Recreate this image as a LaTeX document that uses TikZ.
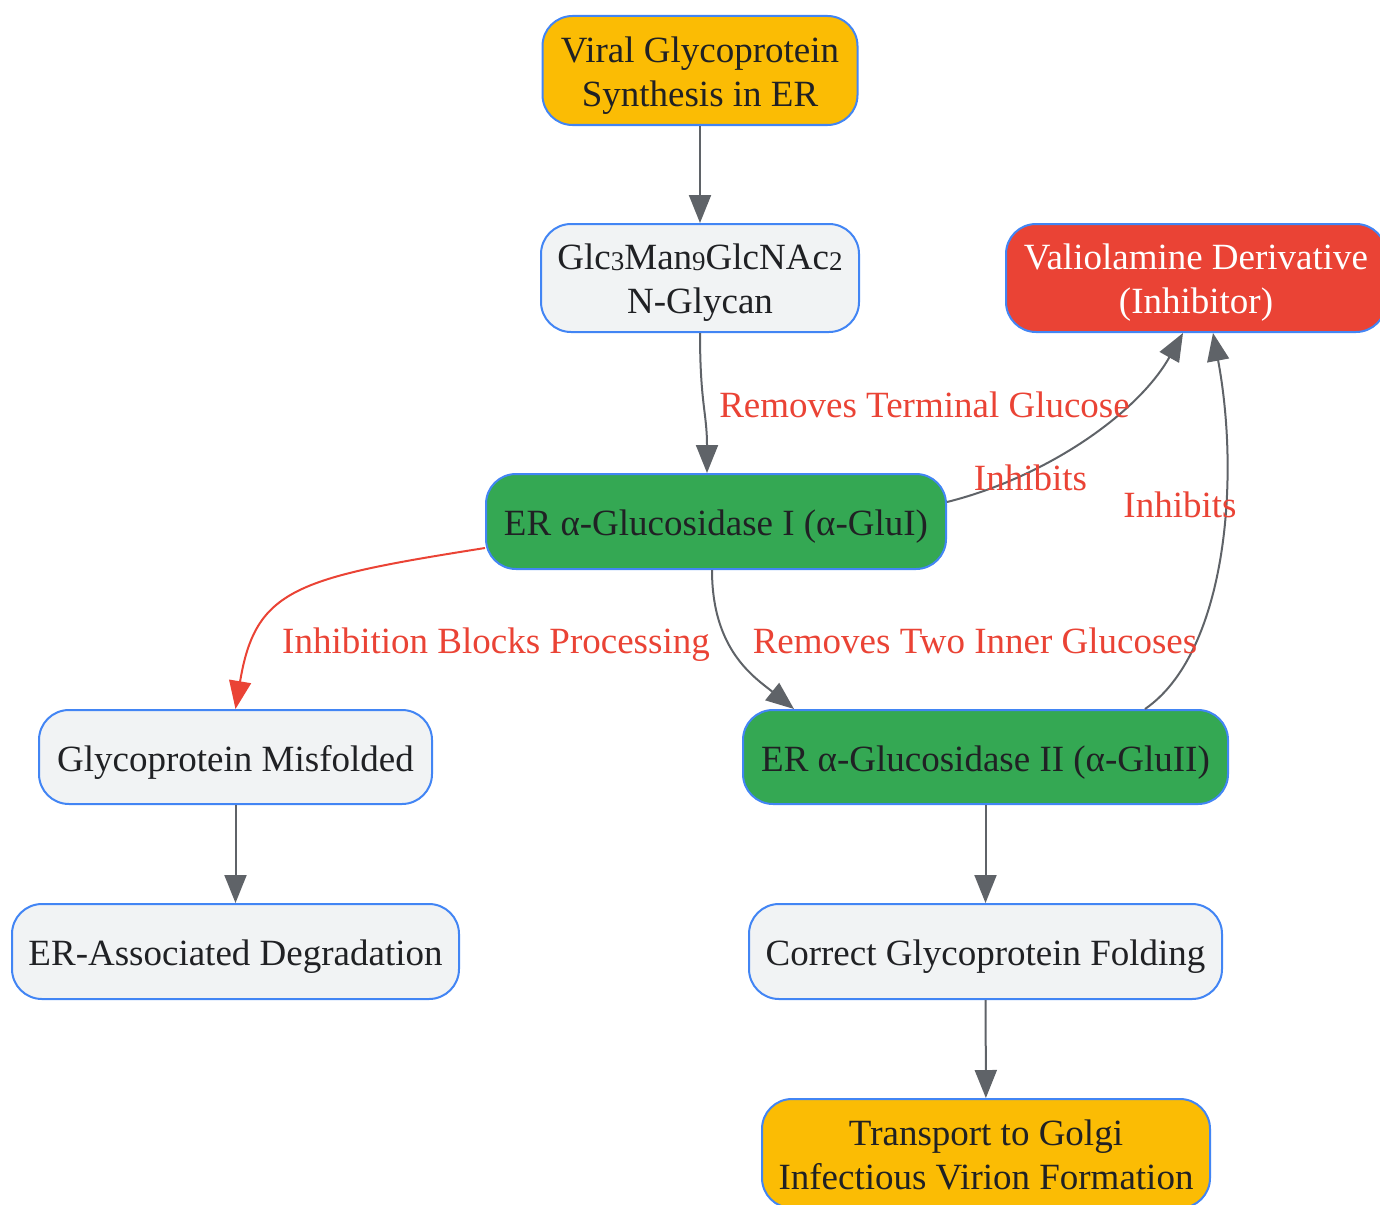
\documentclass[tikz,border=0pt]{standalone}
\usepackage{fontspec}
\setmainfont{Liberation Serif}
\usetikzlibrary{arrows.meta}
\definecolor{cyel}{HTML}{FBBC04}
\definecolor{cred}{HTML}{EA4335}
\definecolor{cgrn}{HTML}{34A853}
\definecolor{clgt}{HTML}{F1F3F4}
\definecolor{cblu}{HTML}{4285F4}
\definecolor{cgry}{HTML}{5F6368}
\definecolor{ctxt}{HTML}{202124}
\newcommand{\lowdig}[1]{\raisebox{-0.6pt}{\fontsize{13.5}{13.5}\selectfont #1}}
\begin{document}
\begin{tikzpicture}[x=0.5pt,y=-0.5pt,
  box/.style={draw=cblu,line width=1pt,rounded corners=15pt,align=center,inner sep=0pt,
    font=\fontsize{18.5}{22}\selectfont,text=ctxt},
  one/.style={text height=16.2pt,text depth=2pt},
  two/.style={text height=37.7pt,text depth=2pt},
  yel/.style={box,fill=cyel},
  lgt/.style={box,fill=clgt},
  grn/.style={box,fill=cgrn},
  redb/.style={box,fill=cred,text=white},
  arr/.style={draw=cgry,line width=1pt,-{Triangle[length=14pt,width=11pt]}},
  rarr/.style={draw=cred,line width=1pt,-{Triangle[length=14pt,width=11pt]}},
  lbl/.style={text=cred,font=\fontsize{18.5}{22}\selectfont,inner sep=0pt,text depth=0pt}
]
\useasboundingbox (0,0) rectangle (1380,1204);
\node[yel,two,minimum width=157.5pt,minimum height=54.5pt] (viral) at (700,70.5) {Viral Glycoprotein\\Synthesis in ER};
\node[lgt,two,minimum width=159pt,minimum height=54pt] (glc) at (700,278) {Glc\lowdig{3}Man\lowdig{9}GlcNAc\lowdig{2}\\N-Glycan};
\node[redb,two,minimum width=190pt,minimum height=54pt] (valio) at (1196,278) {Valiolamine Derivative\\(Inhibitor)};
\node[grn,one,minimum width=230pt,minimum height=47.5pt] (glu1) at (716,521.5) {ER α-Glucosidase I (α-GluI)};
\node[lgt,one,minimum width=196.5pt,minimum height=47pt] (misf) at (235.5,757) {Glycoprotein Misfolded};
\node[grn,one,minimum width=242.5pt,minimum height=47pt] (glu2) at (985.5,757) {ER α-Glucosidase II (α-GluII)};
\node[lgt,one,minimum width=223.5pt,minimum height=47.5pt] (erad) at (235.5,951.5) {ER-Associated Degradation};
\node[lgt,one,minimum width=236.5pt,minimum height=47.5pt] (corr) at (985.5,951.5) {Correct Glycoprotein Folding};
\node[yel,two,minimum width=224pt,minimum height=54.5pt] (trans) at (986,1153.5) {Transport to Golgi\\Infectious Virion Formation};

\draw[arr] (viral) -- (glc);
\draw[arr] (glc.south) .. controls +(0,70) and +(0,-60) .. ([xshift=-4.5pt]glu1.north);
\draw[arr] ([yshift=9.75pt]glu1.east) .. controls +(100,-25) and +(-45,80) .. ([xshift=-6.5pt]valio.south);
\draw[arr] ([xshift=79.75pt]glu2.north) .. controls +(80,-55) and +(28,150) .. ([xshift=8.5pt]valio.south);
\draw[rarr] ([yshift=-13.25pt]glu1.west) .. controls +(-190,30) and +(20,-120) .. (misf.north);
\draw[arr] ([xshift=-2pt]glu1.south) .. controls +(0,80) and +(-40,-32) .. ([xshift=26pt]glu2.north west);
\draw[arr] (misf) -- (erad);
\draw[arr] (glu2) -- (corr);
\draw[arr] (corr) -- (trans);

\node[lbl] (l1) at (924.5,405) {Removes Terminal Glucose};
\node[lbl] (l2) at (1030.5,478) {Inhibits};
\node[lbl] (l3) at (1180,505) {Inhibits};
\node[lbl] (l4) at (496,641) {Inhibition Blocks Processing};
\node[lbl] (l5) at (975,641) {Removes Two Inner Glucoses};
\end{tikzpicture}
\end{document}
